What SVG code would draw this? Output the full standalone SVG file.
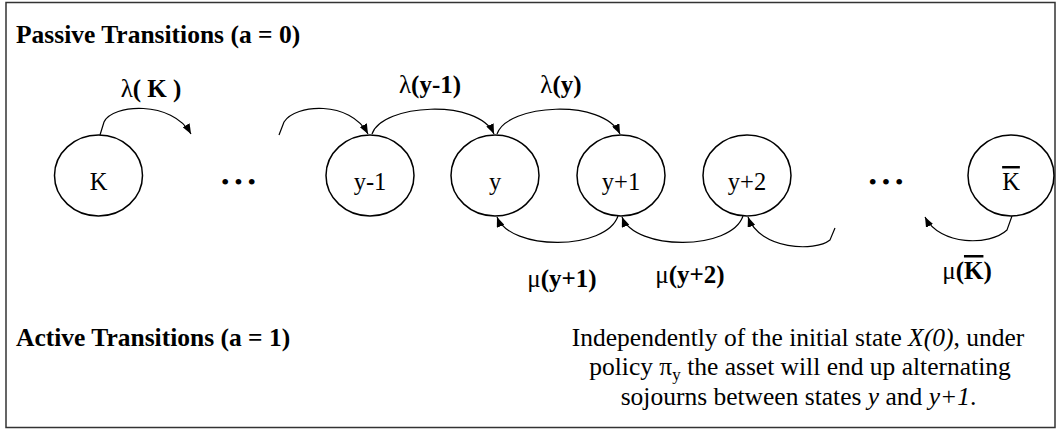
<svg xmlns="http://www.w3.org/2000/svg" width="1056" height="431" viewBox="0 0 1056 431">
<style>
text{font-family:"Liberation Serif","Times New Roman",serif;fill:#000}
.title{font-size:25.5px;font-weight:bold}
.lbl{font-size:25px;font-weight:bold;text-anchor:middle}
.g{font-weight:normal}
.node ellipse{fill:#fff;stroke:#000;stroke-width:1.5}
.node text{font-size:24.5px;text-anchor:middle}
.arc{fill:none;stroke:#000;stroke-width:1.2;marker-end:url(#ah)}
.arc0{fill:none;stroke:#000;stroke-width:1.2}
.dots{font-size:24px;letter-spacing:4.8px}
.para{font-size:25.5px;text-anchor:middle}
</style>
<defs>
<marker id="ah" markerUnits="userSpaceOnUse" markerWidth="10" markerHeight="8" refX="10" refY="4" orient="auto">
<path d="M0,0 L10,4 L0,8 z" fill="#000"/>
</marker>
</defs>
<rect x="6" y="2.5" width="1049" height="425" fill="#fff" stroke="#333" stroke-width="1.5"/>
<text class="title" x="16" y="43">Passive Transitions (a = 0)</text>
<text class="title" x="16" y="346">Active Transitions (a = 1)</text>

<g id="connectors">
<path class="arc" d="M100,135 L104,122 C112,104 172,100 191,134"/>
<path class="arc" d="M279,135 L284,122 C295,104 350,100 368,134"/>
<path class="arc" d="M372,134 C382,104 478,98 494,134"/>
<path class="arc" d="M497,134 C507,104 603,98 620,134"/>
<path class="arc" d="M618,216 C606,251 510,251 497,217"/>
<path class="arc" d="M743,216 C731,251 635,251 622,217"/>
<path class="arc" d="M835,228 L830,240 C815,252 760,250 748,217"/>
<path class="arc" d="M1012,216 L1007,230 C990,246 940,246 925,217"/>
</g>

<g id="node-K" class="node"><ellipse cx="98.5" cy="175.5" rx="44" ry="40.5"/><text x="98.5" y="190">K</text></g>
<g id="node-y-1" class="node"><ellipse cx="370" cy="175.5" rx="44" ry="40.5"/><text x="370" y="190">y-1</text></g>
<g id="node-y" class="node"><ellipse cx="495" cy="175.5" rx="44" ry="40.5"/><text x="495" y="190">y</text></g>
<g id="node-y+1" class="node"><ellipse cx="621" cy="175.5" rx="44" ry="40.5"/><text x="621" y="190">y+1</text></g>
<g id="node-y+2" class="node"><ellipse cx="747" cy="175.5" rx="44" ry="40.5"/><text x="747" y="190">y+2</text></g>
<g id="node-Kbar" class="node"><ellipse cx="1011" cy="175.5" rx="43" ry="40.5"/><text x="1011" y="190" text-decoration="overline">K</text></g>

<text class="dots" x="221" y="190">•••</text>
<text class="dots" x="868.5" y="190">•••</text>

<g id="labels">
<text class="lbl" x="151" y="97"><tspan class="g">λ</tspan>( K )</text>
<text class="lbl" x="430" y="93"><tspan class="g">λ</tspan>(y-1)</text>
<text class="lbl" x="561" y="93"><tspan class="g">λ</tspan>(y)</text>
<text class="lbl" x="562" y="287"><tspan class="g">μ</tspan>(y+1)</text>
<text class="lbl" x="690" y="283"><tspan class="g">μ</tspan>(y+2)</text>
<text class="lbl" x="967" y="279"><tspan class="g">μ</tspan>(<tspan text-decoration="overline">K</tspan>)</text>
</g>

<text class="para" x="798" y="346">Independently of the initial state <tspan font-style="italic">X(0)</tspan>, under</text>
<text class="para" x="800" y="375">policy π<tspan font-size="17" dy="5">y</tspan><tspan dy="-5"> the asset will end up alternating</tspan></text>
<text class="para" x="798.5" y="405">sojourns between states <tspan font-style="italic">y</tspan> and <tspan font-style="italic">y+1</tspan>.</text>
</svg>
